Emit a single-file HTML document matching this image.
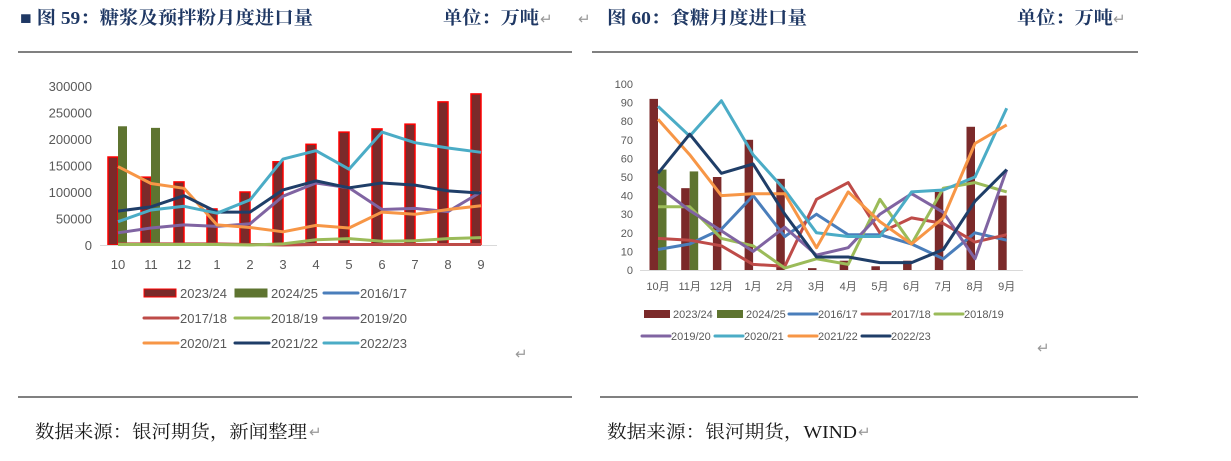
<!DOCTYPE html>
<html><head><meta charset="utf-8"><style>
body{margin:0;background:#fff;width:1231px;height:461px;overflow:hidden}
svg{display:block}
.t{font-family:"Liberation Serif","Noto Serif CJK SC",serif;font-weight:bold;fill:#1f3864;font-size:18px}
.f{font-family:"Liberation Serif","Noto Serif CJK SC",serif;fill:#1a1a1a;font-size:18px}
.a{font-family:"Liberation Sans","Noto Sans CJK SC",sans-serif;fill:#595959}
.r{font-family:"Liberation Sans",sans-serif;fill:#999;font-size:15px}
</style></head><body>
<svg id="s" width="1231" height="461" xmlns="http://www.w3.org/2000/svg">
<text class="t" x="20" y="24" textLength="293" lengthAdjust="spacingAndGlyphs">■ 图 59：糖浆及预拌粉月度进口量</text>
<text class="t" x="443" y="24" textLength="96" lengthAdjust="spacingAndGlyphs">单位：万吨</text><text class="r" x="540" y="24">↵</text><text class="r" x="578" y="24">↵</text>
<text class="t" x="607" y="24" textLength="200" lengthAdjust="spacingAndGlyphs">图 60：食糖月度进口量</text>
<text class="t" x="1017" y="24" textLength="96" lengthAdjust="spacingAndGlyphs">单位：万吨</text><text class="r" x="1113" y="24">↵</text>
<line x1="18" y1="52" x2="572" y2="52" stroke="#000" stroke-width="1"/>
<line x1="592" y1="52" x2="1138" y2="52" stroke="#000" stroke-width="1"/>
<line x1="18" y1="397" x2="572" y2="397" stroke="#000" stroke-width="1"/>
<line x1="600" y1="397" x2="1138" y2="397" stroke="#000" stroke-width="1"/>
<text class="f" x="35" y="438" textLength="272" lengthAdjust="spacingAndGlyphs">数据来源：银河期货，新闻整理</text><text class="r" x="309" y="437">↵</text>
<text class="f" x="607" y="438" textLength="250" lengthAdjust="spacingAndGlyphs">数据来源：银河期货，WIND</text><text class="r" x="858" y="437">↵</text>
<text class="r" x="515" y="359">↵</text><text class="r" x="1037" y="353">↵</text>
<g id="g"></g>
</svg>
<script>
var g=document.getElementById('g'),h='';
var C={r:'#7b2a2a',gr:'#5e7430',bl:'#4a7ebb',rd:'#be4b48',lg:'#9bbb59',pu:'#8064a2',or:'#f79646',nv:'#1f3e68',te:'#4bacc6'};
function line(pts,c){h+='<polyline points="'+pts.join(' ')+'" fill="none" stroke="'+c+'" stroke-width="3" stroke-linejoin="round"/>';}
var L0=245,Ls=159/300000,cx=function(i){return 118+33*i};
for(var v=0;v<=300000;v+=50000){h+='<text class="a" font-size="13" x="92" y="'+(L0-v*Ls+5)+'" text-anchor="end">'+v+'</text>';}
var cats=['10','11','12','1','2','3','4','5','6','7','8','9'];
cats.forEach(function(c,i){h+='<text class="a" font-size="13" x="'+cx(i)+'" y="269" text-anchor="middle">'+c+'</text>';});
var red=[166,128,119,68,100,157,190,213,219,228,270,285];
red.forEach(function(v,i){var y=L0-v*1000*Ls;h+='<rect x="'+(cx(i)-10)+'" y="'+y+'" width="10" height="'+(L0-y)+'" fill="'+C.r+'" stroke="#ff0000" stroke-width="1.5"/>';});
[224,221].forEach(function(v,i){var y=L0-v*1000*Ls;h+='<rect x="'+cx(i)+'" y="'+y+'" width="9" height="'+(L0-y)+'" fill="'+C.gr+'"/>';});
h+='<line x1="100" y1="245.5" x2="497" y2="245.5" stroke="#d9d9d9"/>';
function LL(a,c){line(a.map(function(v,i){return cx(i)+','+(L0-v*1000*Ls).toFixed(1)}),c);}
LL([1,1,1,1,1,1,1,1,1,1,1,1],C.bl);LL([2,2,2,2,1,0,1,1,1,1,1,1],C.rd);
LL([1,1,1,1,0,2,10,12,7,8,12,14],C.lg);
LL([23,32,38,35,40,92,117,108,67,69,63,100],C.pu);
LL([148,116,107,38,33,25,37,32,62,58,67,74],C.or);
LL([64,72,93,62,62,104,121,108,117,113,102,98],C.nv);
LL([44,66,73,60,85,162,178,143,213,193,183,175],C.te);
var lg=[[['2023/24','r',1],['2024/25','gr',1],['2016/17','bl',0]],[['2017/18','rd',0],['2018/19','lg',0],['2019/20','pu',0]],[['2020/21','or',0],['2021/22','nv',0],['2022/23','te',0]]];
var lx=[144,235,324],ly=[293,318,343];
lg.forEach(function(row,r){row.forEach(function(it,k){var x=lx[k],y=ly[r];
 if(it[2]){h+='<rect x="'+x+'" y="'+(y-4)+'" width="32" height="8" fill="'+C[it[1]]+'" stroke="'+(it[1]=='r'?'#f00':C[it[1]])+'"/>';}
 else h+='<line x1="'+x+'" y1="'+y+'" x2="'+(x+34)+'" y2="'+y+'" stroke="'+C[it[1]]+'" stroke-width="3" stroke-linecap="round"/>';
 h+='<text class="a" font-size="13" x="'+(x+36)+'" y="'+(y+5)+'">'+it[0]+'</text>';});});
var R0=270,Rs=1.86,rx=function(i){return 658+31.7*i};
for(var v=0;v<=100;v+=10){h+='<text class="a" font-size="11" x="633" y="'+(R0-v*Rs+4)+'" text-anchor="end">'+v+'</text>';}
cats.forEach(function(c,i){h+='<text class="a" font-size="11" x="'+rx(i)+'" y="290" text-anchor="middle">'+c+'月</text>';});
[92,44,50,70,49,1,5,2,5,42,77,40].forEach(function(v,i){h+='<rect x="'+(rx(i)-8.5)+'" y="'+(R0-v*Rs)+'" width="8.5" height="'+(v*Rs)+'" fill="'+C.r+'"/>';});
[54,53].forEach(function(v,i){h+='<rect x="'+rx(i)+'" y="'+(R0-v*Rs)+'" width="8.5" height="'+(v*Rs)+'" fill="'+C.gr+'"/>';});
h+='<line x1="640" y1="270.5" x2="1023" y2="270.5" stroke="#d9d9d9"/>';
function RL(a,c){line(a.map(function(v,i){return rx(i).toFixed(1)+','+(R0-v*Rs).toFixed(1)}),c);}
RL([11,14,22,40,18,30,19,19,14,6,20,16],C.bl);
RL([17,16,13,3,2,38,47,20,28,25,15,19],C.rd);
RL([34,34,17,13,1,6,3,38,14,44,47,42],C.lg);
RL([45,32,21,10,23,8,12,30,41,31,6,54],C.pu);
RL([88,72,91,62,43,20,18,18,42,43,50,87],C.te);
RL([81,62,40,41,41,12,42,26,14,28,68,78],C.or);
RL([52,73,52,57,30,7,7,4,4,11,37,54],C.nv);
var rg=[[['2023/24','r',1,644],['2024/25','gr',1,717],['2016/17','bl',0,789],['2017/18','rd',0,862],['2018/19','lg',0,935]],[['2019/20','pu',0,642],['2020/21','te',0,715],['2021/22','or',0,789],['2022/23','nv',0,862]]];
[314,336].forEach(function(y,r){rg[r].forEach(function(it){var x=it[3];
 if(it[2])h+='<rect x="'+x+'" y="'+(y-4)+'" width="26" height="8" fill="'+C[it[1]]+'"/>';
 else h+='<line x1="'+x+'" y1="'+y+'" x2="'+(x+28)+'" y2="'+y+'" stroke="'+C[it[1]]+'" stroke-width="3" stroke-linecap="round"/>';
 h+='<text class="a" font-size="11" x="'+(x+29)+'" y="'+(y+4)+'">'+it[0]+'</text>';});});
g.innerHTML=h;
</script>
</body></html>
